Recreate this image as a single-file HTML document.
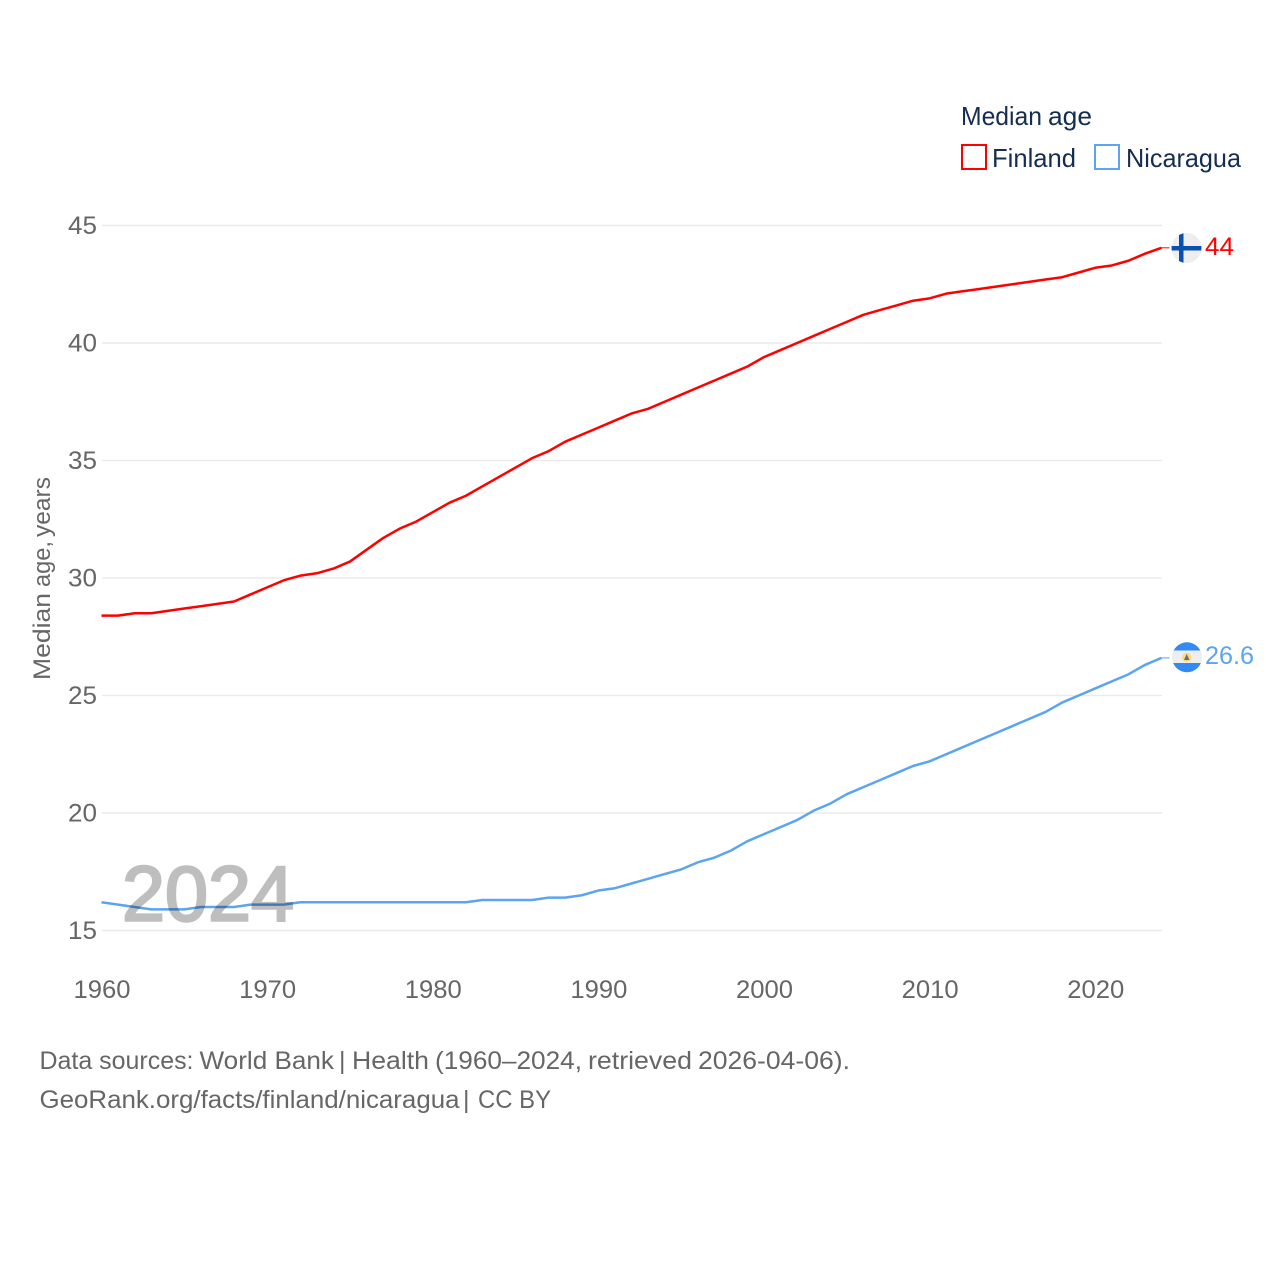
<!DOCTYPE html>
<html lang="en">
<head>
<meta charset="utf-8">
<title>Median age: Finland and Nicaragua</title>
<style>
html,body{margin:0;padding:0;background:#fff;width:1280px;height:1280px;overflow:hidden}
svg{display:block}
text{font-family:"Liberation Sans",sans-serif}
</style>
</head>
<body>
<svg id="chart" width="1280" height="1280" viewBox="0 0 1280 1280" xmlns="http://www.w3.org/2000/svg">
  <g id="grid"></g>
  <g id="yticks"></g>
  <g id="xticks"></g>
  <g font-size="24" fill="#666">
    <text x="50" y="680" transform="rotate(-90 50 680)" textLength="87" lengthAdjust="spacingAndGlyphs">Median</text>
    <text x="50" y="587" transform="rotate(-90 50 587)" textLength="46" lengthAdjust="spacingAndGlyphs">age,</text>
    <text x="50" y="537" transform="rotate(-90 50 537)" textLength="60" lengthAdjust="spacingAndGlyphs">years</text>
  </g>
  <g id="series"></g>
  <text x="122" y="920.5" font-size="78" fill="#000" stroke="#000" stroke-width="2.5" opacity="0.25" textLength="172" lengthAdjust="spacingAndGlyphs">2024</text>

  <g>
    <g font-size="26" fill="#142d50">
      <text x="961" y="125" textLength="81" lengthAdjust="spacingAndGlyphs">Median</text>
      <text x="1048" y="125" textLength="44" lengthAdjust="spacingAndGlyphs">age</text>
    </g>
    <rect x="962" y="145" width="24" height="24" fill="#fff" stroke="#ff0000" stroke-width="2"/>
    <text x="992" y="167" font-size="26" fill="#142d50" textLength="84" lengthAdjust="spacingAndGlyphs">Finland</text>
    <rect x="1095" y="145" width="24" height="24" fill="#fff" stroke="#5ba4f0" stroke-width="2"/>
    <text x="1126" y="167" font-size="26" fill="#142d50" textLength="115" lengthAdjust="spacingAndGlyphs">Nicaragua</text>
  </g>

  <defs>
    <clipPath id="flag-clip-fi"><circle cx="1186.5" cy="248" r="15"/></clipPath>
    <clipPath id="flag-clip-ni"><circle cx="1187" cy="657.3" r="15"/></clipPath>
  </defs>
  <g clip-path="url(#flag-clip-fi)">
    <rect x="1171" y="233" width="31" height="30" fill="#eeeeee"/>
    <rect x="1179" y="233" width="4.5" height="30" fill="#0a50b0"/>
    <rect x="1171" y="246" width="31" height="4.5" fill="#0a50b0"/>
  </g>
  <g clip-path="url(#flag-clip-ni)">
    <rect x="1171" y="642" width="32" height="31" fill="#eeeeee"/>
    <rect x="1171" y="642" width="32" height="8.5" fill="#338af3"/>
    <rect x="1171" y="663" width="32" height="10" fill="#338af3"/>
    <circle cx="1186.7" cy="657.3" r="4.5" fill="#ffda70"/>
    <path d="M1186.7 654 L1189.5 660 L1184 660 Z" fill="#5d6f8f"/>
  </g>
  <text x="1205" y="255" font-size="25" fill="#ff0000" textLength="29" lengthAdjust="spacingAndGlyphs">44</text>
  <text x="1205" y="664" font-size="25" fill="#5ba4f0" textLength="49" lengthAdjust="spacingAndGlyphs">26.6</text>

  <g font-size="25" fill="#666">
    <g>
      <text x="39.5" y="1069" textLength="154" lengthAdjust="spacingAndGlyphs">Data sources:</text>
      <text x="199.5" y="1069" textLength="134.5" lengthAdjust="spacingAndGlyphs">World Bank</text>
      <text x="339" y="1069">|</text>
      <text x="352" y="1069" textLength="77" lengthAdjust="spacingAndGlyphs">Health</text>
      <text x="435" y="1069" textLength="147" lengthAdjust="spacingAndGlyphs">(1960–2024,</text>
      <text x="588" y="1069" textLength="104" lengthAdjust="spacingAndGlyphs">retrieved</text>
      <text x="698" y="1069" textLength="152" lengthAdjust="spacingAndGlyphs">2026-04-06).</text>
    </g>
    <g>
      <text x="39.5" y="1108" textLength="420" lengthAdjust="spacingAndGlyphs">GeoRank.org/facts/finland/nicaragua</text>
      <text x="463" y="1108">|</text>
      <text x="478" y="1108" textLength="73" lengthAdjust="spacingAndGlyphs">CC BY</text>
    </g>
  </g>
</svg>
<script>
const years = [1960,1961,1962,1963,1964,1965,1966,1967,1968,1969,1970,1971,1972,1973,1974,1975,1976,1977,1978,1979,1980,1981,1982,1983,1984,1985,1986,1987,1988,1989,1990,1991,1992,1993,1994,1995,1996,1997,1998,1999,2000,2001,2002,2003,2004,2005,2006,2007,2008,2009,2010,2011,2012,2013,2014,2015,2016,2017,2018,2019,2020,2021,2022,2023,2024];
const finlandValues = [28.4,28.4,28.5,28.5,28.6,28.7,28.8,28.9,29.0,29.3,29.6,29.9,30.1,30.2,30.4,30.7,31.2,31.7,32.1,32.4,32.8,33.2,33.5,33.9,34.3,34.7,35.1,35.4,35.8,36.1,36.4,36.7,37.0,37.2,37.5,37.8,38.1,38.4,38.7,39.0,39.4,39.7,40.0,40.3,40.6,40.9,41.2,41.4,41.6,41.8,41.9,42.1,42.2,42.3,42.4,42.5,42.6,42.7,42.8,43.0,43.2,43.3,43.5,43.8,44.05];
const nicaraguaValues = [16.2,16.1,16.0,15.9,15.9,15.9,16.0,16.0,16.0,16.1,16.1,16.1,16.2,16.2,16.2,16.2,16.2,16.2,16.2,16.2,16.2,16.2,16.2,16.3,16.3,16.3,16.3,16.4,16.4,16.5,16.7,16.8,17.0,17.2,17.4,17.6,17.9,18.1,18.4,18.8,19.1,19.4,19.7,20.1,20.4,20.8,21.1,21.4,21.7,22.0,22.2,22.5,22.8,23.1,23.4,23.7,24.0,24.3,24.7,25.0,25.3,25.6,25.9,26.3,26.6];
const yTickValues = [15,20,25,30,35,40,45];
const xTickValues = [1960,1970,1980,1990,2000,2010,2020];

const NS = 'http://www.w3.org/2000/svg';
const xScale = function (year) { return 101.5 + (year - 1960) * 1060 / 64; };
const yScale = function (value) { return 930.5 - (value - 15) * 23.5; };

function make(tag, attrs, parent) {
  const el = document.createElementNS(NS, tag);
  Object.keys(attrs).forEach(function (k) { el.setAttribute(k, attrs[k]); });
  parent.appendChild(el);
  return el;
}

const grid = document.getElementById('grid');
const yticks = document.getElementById('yticks');
const xticks = document.getElementById('xticks');
const seriesGroup = document.getElementById('series');

yTickValues.forEach(function (v) {
  const line = make('line', {x1: 102, x2: 1162, y1: yScale(v), y2: yScale(v), stroke: '#ebebeb', 'stroke-width': 1.5}, grid);
  
  
  const t = make('text', {x: 97, y: yScale(v) + 8.5, 'text-anchor': 'end', 'font-size': 25, fill: '#666', textLength: 29, lengthAdjust: 'spacingAndGlyphs'}, yticks);
  
  
  t.textContent = String(v);
});

xTickValues.forEach(function (v) {
  const t = make('text', {x: xScale(v) + 0.5, y: 998, 'text-anchor': 'middle', 'font-size': 25, fill: '#666', textLength: 57, lengthAdjust: 'spacingAndGlyphs'}, xticks);
  
  
  t.textContent = String(v);
});

function drawSeries(values, color, name) {
  const pts = values.map(function (v, i) { return xScale(years[i]).toFixed(2) + ',' + yScale(v).toFixed(2); });
  const line = make('polyline', {points: pts.join(' '), fill: 'none', stroke: color, 'stroke-width': 2.5, 'stroke-linejoin': 'round'}, seriesGroup);
  
  
  const lastY = yScale(values[values.length - 1]);
  const lastX = xScale(years[years.length - 1]);
  const lead = make('line', {x1: lastX, x2: lastX + 8, y1: lastY, y2: lastY, stroke: color, 'stroke-width': 1}, seriesGroup);
  
  
}

drawSeries(finlandValues, '#ff0000', 'finland');
drawSeries(nicaraguaValues, '#5ba4f0', 'nicaragua');
</script>
</body>
</html>
